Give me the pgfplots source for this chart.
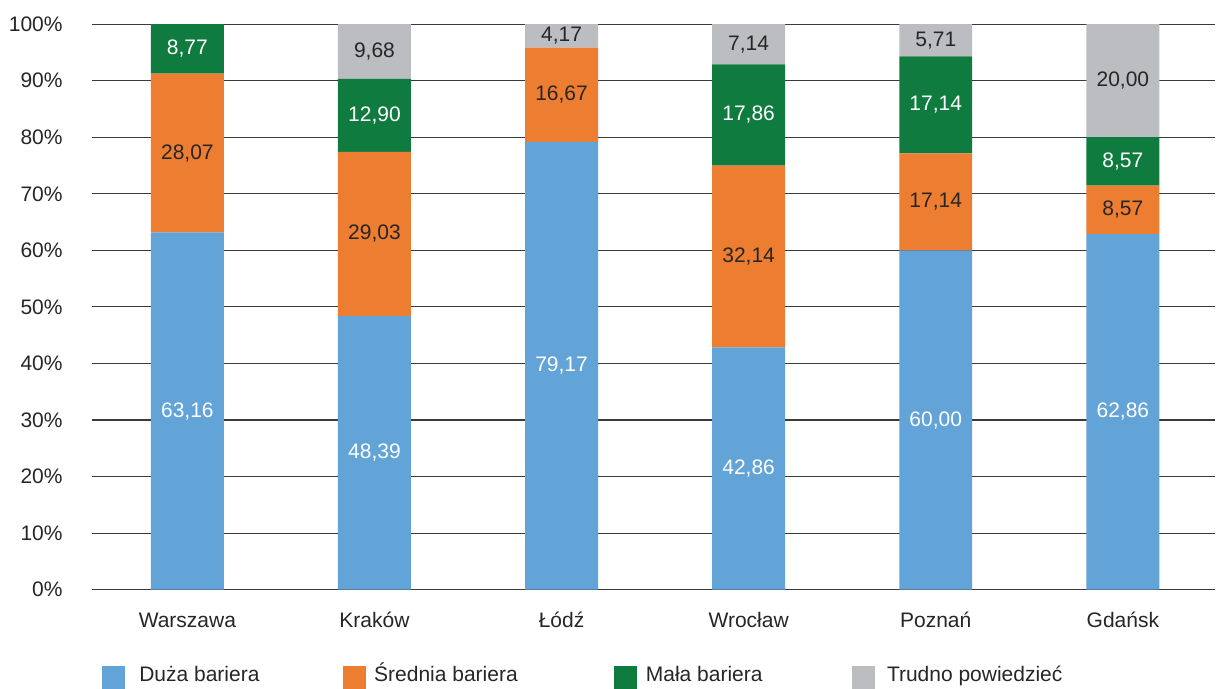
\documentclass[border=0pt]{standalone}
\usepackage{pgfplots}
\pgfplotsset{compat=1.18}
\usepackage{fontspec}
\setmainfont{Liberation Sans}
\definecolor{cBlue}{HTML}{62A3D8}
\definecolor{cOrange}{HTML}{ED7D31}
\definecolor{cGreen}{HTML}{107B3F}
\definecolor{cGray}{HTML}{BCBDC0}
\definecolor{cText}{HTML}{262626}
\definecolor{cGrid}{HTML}{3A3A3A}
\begin{document}
\fontsize{10.5pt}{12.6pt}\selectfont
\begin{tikzpicture}
\begin{axis}[
  at={(0,0)}, anchor=south west,
  scale only axis, width=562pt, height=283pt,
  ybar stacked, bar width=36.5pt,
  xmin=-0.51, xmax=5.495, ymin=0, ymax=100.02,
  clip=false,
  axis line style={draw=none},
  major tick length=0pt,
  ymajorgrids, grid style={cGrid, line width=0.55pt},
  xtick={0,1,2,3,4,5},
  xticklabels={Warszawa,Kraków,Łódź,Wrocław,Poznań,Gdańsk},
  ytick={0,10,20,30,40,50,60,70,80,90,100},
  yticklabels={0\%,10\%,20\%,30\%,40\%,50\%,60\%,70\%,80\%,90\%,100\%},
  ticklabel style={font=\fontsize{10.5pt}{12.6pt}\selectfont, text=cText},
  yticklabel style={anchor=east, inner sep=0pt, xshift=-14.5pt},
  xticklabel style={anchor=base, inner sep=0pt, yshift=-18.65pt},
  point meta=explicit symbolic,
  nodes near coords,
  every node near coord/.append style={anchor=center, inner sep=0pt,
     font=\fontsize{10.5pt}{12.6pt}\selectfont},
  legend columns=4,
  legend image code/.code={\fill[#1] (0pt,-3.5pt) rectangle (11.5pt,8pt);},
  legend style={draw=none, fill=none, at={(0,0)}, anchor=north west,
     xshift=5pt, yshift=-36.5pt, inner sep=0pt, outer sep=0pt,
     column sep=0pt, row sep=0pt,
     nodes={inner sep=0pt, text=cText, font=\fontsize{10.5pt}{12.6pt}\selectfont},
     cells={anchor=base west}},
]
\addplot+[fill=cBlue, draw=none, every node near coord/.append style={text=white}] coordinates {
  (0,63.16) [{63,16}] (1,48.39) [{48,39}] (2,79.17) [{79,17}]
  (3,42.86) [{42,86}] (4,60.00) [{60,00}] (5,62.86) [{62,86}]};
\addlegendentry{\makebox[109.2pt][l]{\hspace{7.2pt}Duża bariera}}
\addplot+[fill=cOrange, draw=none, every node near coord/.append style={text=cText}] coordinates {
  (0,28.07) [{28,07}] (1,29.03) [{29,03}] (2,16.67) [{16,67}]
  (3,32.14) [{32,14}] (4,17.14) [{17,14}] (5,8.57) [{8,57}]};
\addlegendentry{\makebox[123.7pt][l]{\hspace{4pt}Średnia bariera}}
\addplot+[fill=cGreen, draw=none, every node near coord/.append style={text=white}] coordinates {
  (0,8.77) [{8,77}] (1,12.90) [{12,90}] (2,0) [{}]
  (3,17.86) [{17,86}] (4,17.14) [{17,14}] (5,8.57) [{8,57}]};
\addlegendentry{\makebox[107.7pt][l]{\hspace{4.7pt}Mała bariera}}
\addplot+[fill=cGray, draw=none, every node near coord/.append style={text=cText}] coordinates {
  (0,0) [{}] (1,9.68) [{9,68}] (2,4.17) [{4,17}]
  (3,7.14) [{7,14}] (4,5.71) [{5,71}] (5,20.00) [{20,00}]};
\addlegendentry{\hspace{6.1pt}Trudno powiedzieć}
\end{axis}
\path[use as bounding box] (-46pt,-47pt) rectangle (562pt,295pt);
\end{tikzpicture}
\end{document}
